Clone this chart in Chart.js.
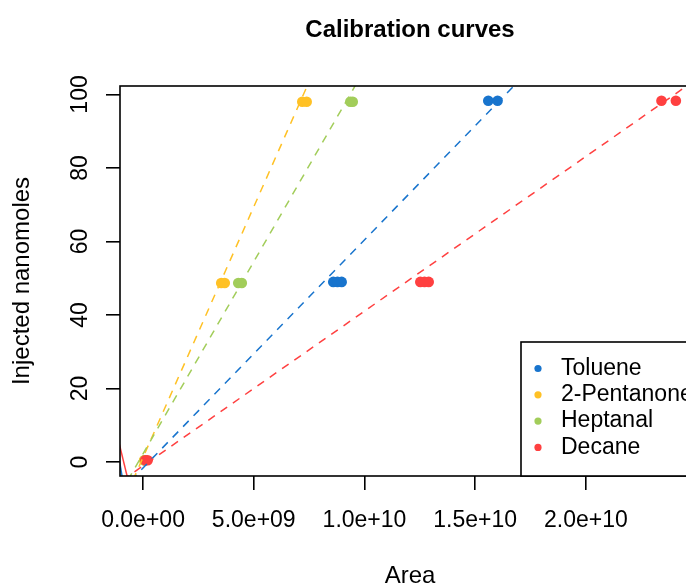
<!DOCTYPE html>
<html>
<head>
<meta charset="utf-8">
<script src="https://cdn.jsdelivr.net/npm/chart.js@4/dist/chart.umd.min.js"></script>
<style>
  html, body { margin: 0; padding: 0; background: #fff; overflow: hidden; }
  #wrap { width: 686px; height: 588px; overflow: hidden; }
</style>
</head>
<body>
<div id="wrap"><canvas id="myChart" width="820" height="588"></canvas></div>
<script>
const compounds = ['Toluene', '2-Pentanone', 'Heptanal', 'Decane'];
const colors = ['#1874CD', '#FFC125', '#A2CD5A', '#FF4040'];

// peak areas and injected nanomoles
const tolueneArea = [0.08e9, 8.59e9, 8.78e9, 8.97e9, 15.59e9, 16.01e9];
const tolueneNmol = [0.5, 49.0, 49.0, 49.0, 98.3, 98.3];
const pentanoneArea = [0.05e9, 3.53e9, 3.69e9, 7.19e9, 7.39e9];
const pentanoneNmol = [0.5, 48.7, 48.7, 98.0, 98.0];
const heptanalArea = [0.08e9, 4.30e9, 4.46e9, 9.36e9, 9.47e9];
const heptanalNmol = [0.5, 48.7, 48.7, 98.0, 98.0];
const decaneArea = [0.10e9, 0.21e9, 12.52e9, 12.71e9, 12.90e9, 23.41e9, 24.06e9];
const decaneNmol = [0.5, 0.5, 49.0, 49.0, 49.0, 98.3, 98.3];

// dashed calibration lines, read where they leave the plot
const fitNmol = [-5, 105];
const tolueneFit = [-0.55e9, 17.18e9];
const pentanoneFit = [-0.46e9, 7.61e9];
const heptanalFit = [-0.69e9, 9.83e9];
const decaneFit = [-0.94e9, 25.19e9];

// short solid pieces at the lower left corner
const edgeDecaneArea = [-1.1e9, -0.7e9];
const edgeDecaneNmol = [5.6, -4.3];
const edgeTolueneArea = [-1.1e9, -0.9e9];
const edgeTolueneNmol = [1.7, -5.6];

const xTicks = [0, 5e9, 1e10, 1.5e10, 2e10];
const yTicks = [0, 20, 40, 60, 80, 100];

const font = "'Liberation Sans', Arial, sans-serif";

function pairs(xs, ys) {
    return xs.map((x, i) => ({ x: x, y: ys[i] }));
}

function sci(v) {
    const parts = v.toExponential(1).split('e');
    const n = parseInt(parts[1]);
    return parts[0] + 'e' + (n < 0 ? '-' : '+') + String(Math.abs(n)).padStart(2, '0');
}

const pointSets = [tolueneArea, pentanoneArea, heptanalArea, decaneArea];
const nmolSets = [tolueneNmol, pentanoneNmol, heptanalNmol, decaneNmol];
const fitSets = [tolueneFit, pentanoneFit, heptanalFit, decaneFit];

let datasets = [];
pointSets.forEach((areas, i) => {
    datasets.push({
        type: 'scatter',
        label: compounds[i],
        data: pairs(areas, nmolSets[i]),
        backgroundColor: colors[i],
        pointRadius: 5.3,
        pointBorderWidth: 0,
        order: 10 - i
    });
});
fitSets.forEach((fit, i) => {
    datasets.push({
        type: 'line',
        data: pairs(fit, fitNmol),
        borderColor: colors[i],
        borderWidth: 1.5,
        borderDash: [8, 7],
        pointRadius: 0,
        order: 5 - i
    });
});
datasets.push({
    type: 'line',
    data: pairs(edgeTolueneArea, edgeTolueneNmol),
    borderColor: colors[0],
    borderWidth: 1.5,
    pointRadius: 0,
    order: 0
});
datasets.push({
    type: 'line',
    data: pairs(edgeDecaneArea, edgeDecaneNmol),
    borderColor: colors[3],
    borderWidth: 1.5,
    pointRadius: 0,
    order: 0
});

const boxPlugin = {
    id: 'box',
    afterDatasetsDraw(chart) {
        const { ctx, chartArea: a } = chart;
        ctx.save();
        ctx.strokeStyle = '#000';
        ctx.lineWidth = 1.6;
        ctx.strokeRect(a.left, a.top, a.right - a.left, a.bottom - a.top);
        ctx.restore();
    }
};

const legendPlugin = {
    id: 'cornerLegend',
    afterDraw(chart) {
        const { ctx, chartArea: a } = chart;
        const w = 179, h = 134;
        const left = a.right - w, top = a.bottom - h;
        ctx.save();
        ctx.fillStyle = '#fff';
        ctx.fillRect(left, top, w, h);
        ctx.strokeStyle = '#000';
        ctx.lineWidth = 1.6;
        ctx.strokeRect(left, top, w, h);
        ctx.font = '23px ' + font;
        ctx.textBaseline = 'middle';
        compounds.forEach((name, i) => {
            const y = top + 26.5 + i * 26.3;
            ctx.fillStyle = colors[i];
            ctx.beginPath();
            ctx.arc(left + 17, y, 3.6, 0, Math.PI * 2);
            ctx.fill();
            ctx.fillStyle = '#000';
            ctx.fillText(name, left + 40, y);
        });
        ctx.restore();
    }
};

new Chart(document.getElementById('myChart'), {
    data: { datasets: datasets },
    options: {
        responsive: false,
        animation: false,
        devicePixelRatio: 1,
        layout: { padding: { left: 0, top: 0, right: 120, bottom: 0 } },
        plugins: {
            legend: { display: false },
            tooltip: { enabled: false },
            title: {
                display: true,
                fullSize: false,
                text: 'Calibration curves',
                color: '#000',
                font: { family: font, size: 24, weight: 'bold', lineHeight: 1.2 },
                padding: { top: 15.6, bottom: 41.6 }
            }
        },
        scales: {
            x: {
                type: 'linear',
                min: -1.04e9,
                max: 25.15e9,
                afterBuildTicks: s => { s.ticks = xTicks.map(v => ({ value: v })); },
                afterFit: s => { s.height = 112; },
                ticks: {
                    color: '#000',
                    font: { family: font, size: 23 },
                    padding: 17,
                    maxRotation: 0,
                    autoSkip: false,
                    callback: v => sci(v)
                },
                grid: { drawOnChartArea: false, tickLength: 14, color: '#000', lineWidth: 1.6 },
                border: { display: false },
                title: {
                    display: true,
                    text: 'Area',
                    color: '#000',
                    font: { family: font, size: 24, lineHeight: 1 },
                    padding: 0
                }
            },
            y: {
                type: 'linear',
                min: -3.8,
                max: 102.3,
                afterBuildTicks: s => { s.ticks = yTicks.map(v => ({ value: v })); },
                afterFit: s => { s.width = 120; },
                ticks: {
                    color: '#000',
                    font: { family: font, size: 23 },
                    padding: 6,
                    minRotation: 90,
                    maxRotation: 90,
                    crossAlign: 'center',
                    autoSkip: false
                },
                grid: { drawOnChartArea: false, tickLength: 14, color: '#000', lineWidth: 1.6 },
                border: { display: false },
                title: {
                    display: true,
                    text: 'Injected nanomoles',
                    color: '#000',
                    font: { family: font, size: 24, lineHeight: 1.2 },
                    padding: { top: 8, bottom: 0 }
                }
            }
        }
    },
    plugins: [boxPlugin, legendPlugin]
});
</script>
</body>
</html>
